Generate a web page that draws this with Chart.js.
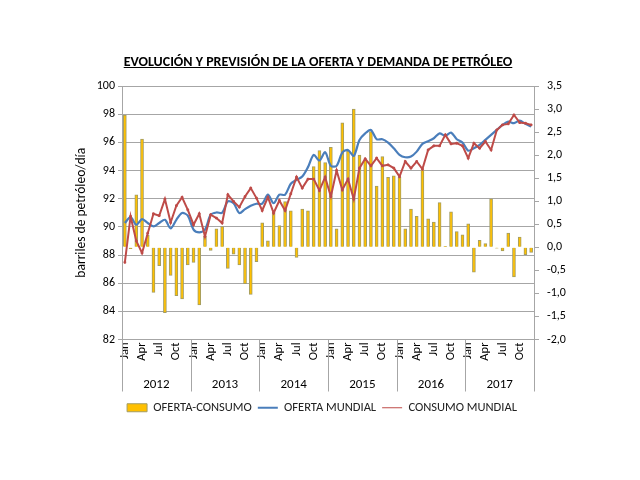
<!DOCTYPE html>
<html lang="es">
<head>
<meta charset="utf-8">
<title>Oferta y demanda de petróleo</title>
<script src="https://cdn.jsdelivr.net/npm/chart.js@4/dist/chart.umd.min.js"></script>
<style>
  html, body { margin: 0; padding: 0; background: #fff; }
  #contenedor { position: relative; width: 640px; height: 480px; }
  #titulo {
    position: absolute; left: -2px; top: 53px; width: 640px; text-align: center;
    font: bold 14px Carlito, Lato, sans-serif; text-decoration: underline; color: #000;
  }
  canvas { position: absolute; left: 0; top: 0; }
</style>
</head>
<body>
<div id="contenedor">
  <canvas id="grafico" width="640" height="480"></canvas>
  <div id="titulo">EVOLUCIÓN Y PREVISIÓN DE LA OFERTA Y DEMANDA DE PETRÓLEO</div>
</div>
<script>
// Datos (mensuales, ene-2012 a dic-2017)
const ANIOS = ['2012', '2013', '2014', '2015', '2016', '2017'];
const MESES = ['Jan', 'Feb', 'Mar', 'Apr', 'May', 'Jun', 'Jul', 'Aug', 'Sep', 'Oct', 'Nov', 'Dec'];

// millones de barriles/día (eje izquierdo)
const ofertaMundial = [
  90.27, 90.69, 90.15, 90.55, 90.27, 90.03, 90.27, 90.50, 89.89, 90.50, 90.98, 90.79,
  89.80, 89.60, 89.80, 90.86, 91.02, 91.00, 91.80, 91.68, 90.98, 91.26, 91.50, 91.64,
  91.64, 92.28, 91.68, 92.28, 92.28, 93.06, 93.34, 93.57, 94.24, 95.11, 94.71, 95.30,
  94.33, 94.33, 95.27, 95.46, 95.04, 96.17, 96.64, 96.88, 96.22, 96.22, 95.98, 95.58,
  95.11, 94.94, 94.99, 95.34, 95.89, 96.08, 96.29, 96.64, 96.46, 96.69, 96.22, 95.98,
  95.41, 95.58, 95.82, 96.17, 96.53, 96.88, 97.24, 97.47, 97.36, 97.54, 97.31, 97.12
];
const consumoMundial = [
  87.48, 90.74, 89.00, 88.14, 89.55, 90.93, 90.79, 91.97, 90.31, 91.50, 92.10, 91.21,
  90.15, 90.93, 89.32, 90.86, 90.62, 90.27, 92.28, 91.80, 91.40, 92.15, 92.75, 92.04,
  91.16, 92.10, 90.98, 91.87, 91.16, 92.35, 93.53, 92.75, 93.39, 93.39, 92.58, 93.53,
  92.15, 94.00, 92.63, 93.39, 91.97, 94.17, 94.83, 94.33, 94.88, 94.33, 94.40, 94.17,
  93.57, 94.64, 94.17, 94.64, 94.10, 95.46, 95.75, 95.75, 96.53, 95.89, 95.94, 95.75,
  94.88, 95.94, 95.58, 96.06, 95.46, 96.88, 97.24, 97.31, 97.94, 97.40, 97.36, 97.24
];
// diferencia oferta - consumo (eje derecho)
const ofertaConsumo = [
  2.87, -0.03, 1.14, 2.35, 0.26, -0.98, -0.40, -1.42, -0.61, -1.05, -1.12, -0.38,
  -0.33, -1.25, 0.24, -0.07, 0.40, 0.45, -0.46, -0.15, -0.38, -0.79, -1.02, -0.31,
  0.53, 0.14, 0.76, 0.47, 0.99, 0.79, -0.22, 0.83, 0.79, 1.75, 2.10, 1.84,
  2.17, 0.40, 2.70, 2.08, 3.00, 2.00, 1.90, 2.51, 1.33, 1.97, 1.52, 1.55,
  1.52, 0.40, 0.83, 0.67, 1.68, 0.62, 0.55, 0.97, 0.02, 0.77, 0.34, 0.27,
  0.51, -0.54, 0.15, 0.08, 1.05, -0.02, -0.08, 0.31, -0.64, 0.22, -0.16, -0.11
];

const etiquetas = [];
ANIOS.forEach(a => MESES.forEach(m => etiquetas.push(m + ' ' + a)));

const GRIS = '#a6a6a6';
Chart.defaults.font.family = 'Carlito, Lato, sans-serif';
Chart.defaults.color = '#000';

// Separadores verticales entre años, debajo del eje X
const separadoresAnios = {
  id: 'separadoresAnios',
  afterDraw(chart) {
    const x = chart.scales.x;
    const x2 = chart.scales.x2;
    const ctx = chart.ctx;
    ctx.save();
    ctx.strokeStyle = GRIS;
    ctx.lineWidth = 1;
    for (let k = 0; k <= ANIOS.length; k++) {
      const i = k * 12;
      let px;
      if (i === 0) px = x.left;
      else if (i >= etiquetas.length) px = x.right;
      else px = (x.getPixelForValue(i - 1) + x.getPixelForValue(i)) / 2;
      px = Math.round(px) + 0.5;
      ctx.beginPath();
      ctx.moveTo(px, x.top);
      ctx.lineTo(px, x2.bottom - 4);
      ctx.stroke();
    }
    ctx.restore();
  }
};

new Chart(document.getElementById('grafico'), {
  type: 'bar',
  data: {
    labels: etiquetas,
    datasets: [
      {
        type: 'bar',
        label: 'OFERTA-CONSUMO',
        data: ofertaConsumo,
        yAxisID: 'y1',
        backgroundColor: '#ffc000',
        borderColor: '#a39d62',
        borderWidth: 1,
        barThickness: 3,
        order: 3
      },
      {
        type: 'line',
        label: 'OFERTA MUNDIAL',
        data: ofertaMundial,
        yAxisID: 'y',
        borderColor: '#4a7ebb',
        backgroundColor: '#4a7ebb',
        borderWidth: 2.2,
        pointRadius: 0,
        tension: 0.3,
        order: 2
      },
      {
        type: 'line',
        label: 'CONSUMO MUNDIAL',
        data: consumoMundial,
        yAxisID: 'y',
        borderColor: '#be4b48',
        backgroundColor: '#be4b48',
        borderWidth: 2,
        pointStyle: 'rect',
        pointRadius: 1.2,
        pointBorderWidth: 1,
        tension: 0,
        order: 1
      }
    ]
  },
  options: {
    responsive: false,
    animation: false,
    layout: { padding: { left: 70, right: 66, top: 86, bottom: 56 } },
    plugins: {
      title: { display: false },
      tooltip: { enabled: false },
      legend: {
        position: 'bottom',
        labels: {
          usePointStyle: true,
          pointStyleWidth: 20,
          boxHeight: 8,
          padding: 6,
          color: '#222',
          font: { size: 12.5 },
          sort: (a, b) => a.datasetIndex - b.datasetIndex,
          generateLabels(chart) {
            const items = Chart.defaults.plugins.legend.labels.generateLabels(chart);
            items.forEach(it => {
              const ds = chart.data.datasets[it.datasetIndex];
              it.pointStyle = ds.type === 'bar' ? 'rect' : 'line';
            });
            return items;
          }
        }
      }
    },
    scales: {
      x: {
        position: 'bottom',
        grid: { display: false, drawTicks: false },
        border: { display: false },
        ticks: {
          autoSkip: false,
          minRotation: 90,
          maxRotation: 90,
          padding: 3,
          font: { size: 12.5 },
          callback: (v, i) => (i % 3 === 0 ? MESES[i % 12] : '')
        },
        afterFit: s => { s.height = 36; }
      },
      x2: {
        type: 'category',
        labels: ANIOS,
        offset: true,
        position: 'bottom',
        grid: { display: false, drawTicks: false },
        border: { display: false },
        ticks: { padding: 1, font: { size: 13 } },
        afterFit: s => { s.height = 20; }
      },
      y: {
        position: 'left',
        min: 82,
        max: 100,
        ticks: { stepSize: 2, padding: 3, font: { size: 12 } },
        grid: { color: GRIS, tickLength: 4 },
        border: { color: GRIS },
        title: {
          display: true,
          text: 'barriles de petróleo/día',
          font: { size: 13.5 },
          padding: { top: 4, bottom: 0 }
        },
        afterFit: s => { s.width = 52; }
      },
      y1: {
        position: 'right',
        min: -2,
        max: 3.5,
        ticks: {
          stepSize: 0.5,
          padding: 8,
          font: { size: 12 },
          callback: v => v.toFixed(1).replace('.', ',')
        },
        grid: { drawOnChartArea: false, color: GRIS, tickLength: 5 },
        border: { color: GRIS },
        afterFit: s => { s.width = 40; }
      }
    }
  },
  plugins: [separadoresAnios]
});
</script>
</body>
</html>
